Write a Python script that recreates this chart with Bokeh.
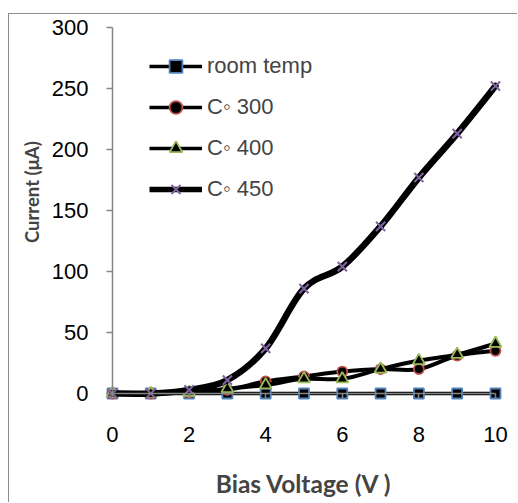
import math
from bokeh.plotting import figure
from bokeh.models import LinearAxis, FixedTicker, Legend, LegendItem, Label, Range1d
from bokeh.embed import file_html
from bokeh.resources import INLINE

# ---- data ----
voltage = [0, 1, 2, 3, 4, 5, 6, 7, 8, 9, 10]
room_temp = [0, 0, 0, 0, 0, 0, 0, 0, 0, 0, 0]
c300 = [0, 0, 1, 3, 10, 14, 18, 20, 20, 31, 35]
c400 = [0, 0, 1, 4, 7, 12, 12, 20, 27, 32, 41]
c450 = [0, 0, 3, 11, 37, 86, 104, 137, 177, 213, 252]
series_names = ["room temp", "C\u25e6 300", "C\u25e6 400", "C\u25e6 450"]
x_ticks = [0, 2, 4, 6, 8, 10]
y_ticks = [0, 50, 100, 150, 200, 250, 300]
x_title = "Bias Voltage (V )"
y_title = "Current (\u03bcA)"

TICK_FONT = "Liberation Sans"
TITLE_FONT = "Lato"
GRAY = "#868686"

# frame fills the whole canvas; the ranges are chosen so the axes land where
# the reference puts them
p = figure(width=509, height=489, output_backend="svg", toolbar_location=None,
           x_range=Range1d(-2.689, 10.601), y_range=Range1d(-90.16, 310.66),
           x_axis_location=None, y_axis_location=None,
           min_border_left=0, min_border_right=0, min_border_top=0, min_border_bottom=0)
p.styles = {"margin-left": "8px", "margin-top": "13px",
            "border-left": "1px solid #8c8c8c", "border-top": "1px solid #8c8c8c"}
p.outline_line_color = None
p.xgrid.visible = False
p.ygrid.visible = False
p.background_fill_color = "white"
p.border_fill_color = "white"

yaxis = LinearAxis(fixed_location=0, ticker=FixedTicker(ticks=y_ticks), bounds=(0, 300))
xaxis = LinearAxis(fixed_location=0, ticker=FixedTicker(ticks=x_ticks), bounds=(0, 10))
for ax in (xaxis, yaxis):
    ax.axis_line_color = GRAY
    ax.axis_line_width = 1.5
    ax.major_tick_line_color = GRAY
    ax.major_tick_line_width = 1.5
    ax.major_tick_in = 0
    ax.minor_tick_line_color = None
    ax.major_label_text_font = TICK_FONT
    ax.major_label_text_font_size = "22px"
    ax.major_label_text_color = "black"
yaxis.major_tick_out = 6
yaxis.major_label_standoff = 18
xaxis.major_tick_out = 5
xaxis.major_label_standoff = 28
p.add_layout(yaxis, "left")
p.add_layout(xaxis, "below")


def smooth_segments(xs, ys):
    n = len(xs)
    out = dict(x0=[], y0=[], x1=[], y1=[], cx0=[], cy0=[], cx1=[], cy1=[])
    for i in range(n - 1):
        im1 = max(i - 1, 0)
        ip2 = min(i + 2, n - 1)
        out["x0"].append(xs[i]); out["y0"].append(ys[i])
        out["x1"].append(xs[i + 1]); out["y1"].append(ys[i + 1])
        out["cx0"].append(xs[i] + (xs[i + 1] - xs[im1]) / 6.0)
        out["cy0"].append(ys[i] + (ys[i + 1] - ys[im1]) / 6.0)
        out["cx1"].append(xs[i + 1] - (xs[ip2] - xs[i]) / 6.0)
        out["cy1"].append(ys[i + 1] - (ys[ip2] - ys[i]) / 6.0)
    return out


series = [room_temp, c300, c400, c450]
styles = [
    dict(marker="square", size=10, fill="black", line="#4F81BD", lw=3.5, mlw=1.8, leg_lw=3.5),
    dict(marker="circle", size=10, fill="black", line="#C0504D", lw=4, mlw=1.8, leg_lw=3.5),
    dict(marker="triangle", size=12, fill="black", line="#9BBB59", lw=4, mlw=1.8, leg_lw=3.5),
    dict(marker="x", size=13, fill=None, line="#8064A2", lw=6.5, mlw=2, leg_lw=5.5),
]

nan = float("nan")
items = []
for name, ys, st in zip(series_names, series, styles):
    seg = smooth_segments(voltage, ys)
    p.bezier(x0="x0", y0="y0", x1="x1", y1="y1", cx0="cx0", cy0="cy0", cx1="cx1", cy1="cy1",
             source=seg, line_color="black", line_width=st["lw"], line_cap="round")
    p.scatter(voltage, ys, marker=st["marker"], size=st["size"],
              fill_color=st["fill"], line_color=st["line"], line_width=st["mlw"])
    # legend proxies (a single NaN point: nothing drawn in the plot)
    lr = p.line([nan], [nan], line_color="black", line_width=st["leg_lw"])
    sr = p.scatter([nan], [nan], marker=st["marker"], size=st["size"],
                   fill_color=st["fill"], line_color=st["line"], line_width=st["mlw"])
    items.append(LegendItem(label=name, renderers=[lr, sr]))

legend = Legend(items=items)
legend.border_line_color = None
legend.background_fill_alpha = 0
legend.padding = 0
legend.margin = 0
legend.spacing = 9
legend.glyph_width = 53
legend.glyph_height = 32
legend.label_height = 32
legend.label_standoff = 5
legend.label_text_font = TICK_FONT
legend.label_text_font_size = "22px"
legend.label_text_baseline = "middle"
legend.location = (140, 298)
p.add_layout(legend)

p.add_layout(Label(x=5, y=-73.5, text=x_title, text_align="center", text_baseline="middle",
                   text_font=TITLE_FONT, text_font_style="bold", text_font_size="24.5px"))
p.add_layout(Label(x=-2.09, y=165, text=y_title, angle=math.pi / 2, text_align="center",
                   text_baseline="middle", text_font=TITLE_FONT, text_font_style="bold",
                   text_font_size="18.5px"))

open("out.html", "w").write(file_html(p, INLINE))
